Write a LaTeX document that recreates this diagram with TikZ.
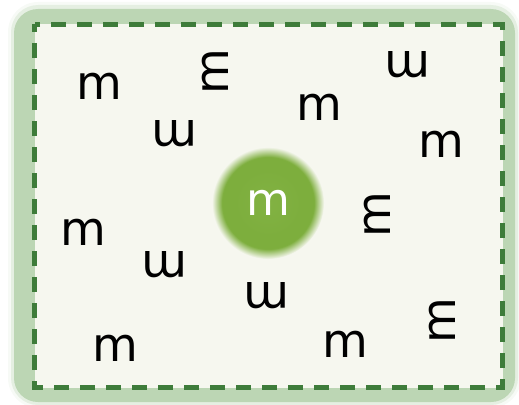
\documentclass[tikz,border=0pt]{standalone}
\usepackage{fontspec}
\setmainfont{DejaVu Sans}
\usepackage{xcolor}
\definecolor{banda}{HTML}{BCD6B4}
\definecolor{trazo}{HTML}{3E7C3A}
\definecolor{fondo}{HTML}{F6F7EF}
\definecolor{bola}{HTML}{7DAE3D}
\definecolor{bolaclara}{HTML}{82B243}
\pgfdeclareradialshading{bolaglow}{\pgfpoint{0bp}{0bp}}{color(0bp)=(bolaclara); color(15bp)=(bola); color(20.5bp)=(bola); color(25bp)=(fondo); color(50bp)=(fondo)}

\begin{document}
\begin{tikzpicture}[x=1pt, y=-1pt,
      letra/.style={font=\fontsize{47}{50}\selectfont, inner sep=0pt},
      bolanode/.style={circle, minimum size=112pt, inner sep=0pt, shading=bolaglow,
                text=white, font=\fontsize{45}{50}\selectfont}]
    \useasboundingbox (0,0) rectangle (519,404);
    % marco
    \fill[banda, opacity=0.12, rounded corners=30pt] (8,2) rectangle (521,408);
    \fill[banda, opacity=0.3, rounded corners=27pt] (11,5) rectangle (518,405);
    \fill[banda, rounded corners=24pt] (14,9) rectangle (515,402);
    \fill[fondo] (34.5,24.5) rectangle (502.5,387.5);
    \draw[trazo, line width=4.5pt, dash pattern=on 15pt off 11pt, dash phase=7.5pt]
      (34.5,24.5) rectangle (502.5,387.5);

    \node[bolanode] (centro) at (268,203) {m};

    \node[letra] (m1) at (99.5,86.5) {m};
    \node[letra, rotate=90] (m2) at (215,72) {m};
    \node[letra, rotate=180] (m3) at (175,134) {m};
    \node[letra, rotate=180] (m4) at (408,65) {m};
    \node[letra] (m5) at (319,107) {m};
    \node[letra] (m6) at (441,144) {m};
    \node[letra, rotate=90] (m7) at (377,215) {m};
    \node[letra] (m8) at (83,232) {m};
    \node[letra, rotate=180] (m9) at (165,265) {m};
    \node[letra] (m10) at (115,348) {m};
    \node[letra, rotate=180] (m11) at (267,296) {m};
    \node[letra] (m12) at (345,344) {m};
    \node[letra, rotate=90] (m13) at (442,321) {m};
  \end{tikzpicture}
\end{document}
